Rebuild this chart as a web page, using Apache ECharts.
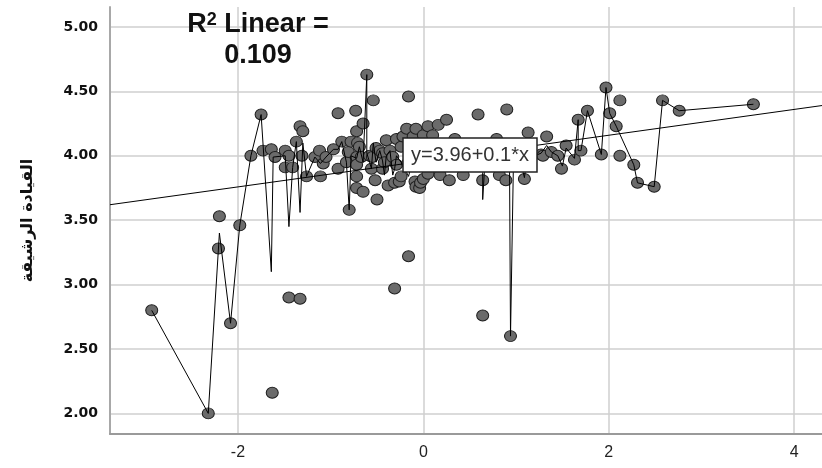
<!DOCTYPE html>
<html><head><meta charset="utf-8">
<script src="https://cdn.jsdelivr.net/npm/echarts@6/dist/echarts.min.js"></script>
<style>html,body{margin:0;padding:0;background:#fff}#c{width:822px;height:468px}</style>
</head><body><div id="c"></div>
<script>
// scatter points (x = predictor, y = القيادة الرشيقة)
const pointX = [
-2.93,-2.32,-2.20,-2.21,-2.08,-1.98,-1.86,-1.75,-1.73,-1.64,-1.63,-1.60,-1.49,-1.45,-1.49,-1.41,-1.45,-1.37,-1.33,-1.30,-1.31,-1.33,-1.26,
-1.17,-1.12,-1.11,-1.08,-1.05,-0.97,-0.92,-0.92,-0.88,-0.83,-0.81,-0.80,-0.78,-0.73,-0.72,-0.71,-0.72,-0.72,-0.72,-0.72,-0.69,-0.67,-0.65,-0.65,
-0.61,-0.58,-0.56,-0.55,-0.54,-0.52,-0.51,-0.50,-0.47,-0.44,-0.44,-0.42,-0.40,-0.38,-0.36,-0.33,-0.31,-0.31,-0.29,-0.29,-0.26,-0.24,-0.24,-0.22,
-0.18,-0.17,-0.16,-0.16,-0.11,-0.09,-0.08,-0.08,-0.04,-0.03,0.00,0.00,0.05,0.05,0.10,0.16,0.18,0.25,0.28,0.34,0.43,0.59,0.64,0.64,0.79,0.82,0.89,0.90,0.94,1.09,1.13,
0.10,0.30,0.50,0.70,0.95,1.10,
1.27,1.29,1.33,1.38,1.45,1.49,1.54,1.63,1.67,1.70,1.77,1.92,1.97,2.01,2.08,2.12,2.12,2.27,2.31,2.49,2.58,2.76,3.56
];
const pointY = [
2.80,2.00,3.53,3.28,2.70,3.46,4.00,4.32,4.04,4.05,2.16,3.99,4.04,4.00,3.91,3.91,2.90,4.11,4.23,4.19,4.00,2.89,3.84,
3.99,4.04,3.84,3.94,3.99,4.05,4.33,3.90,4.11,3.95,4.03,3.58,4.11,4.35,4.19,4.10,3.99,3.93,3.84,3.75,4.07,3.99,4.25,3.72,
4.63,4.00,3.90,3.99,4.43,3.81,4.06,3.66,4.04,4.02,3.90,3.95,4.12,3.77,4.04,3.99,3.79,2.97,4.13,3.93,3.80,3.84,4.07,4.15,
4.21,3.94,4.46,3.22,4.15,3.80,4.21,3.76,3.75,3.79,4.16,3.82,4.23,3.86,4.16,4.24,3.85,4.28,3.81,4.13,3.85,4.32,3.81,2.76,4.13,3.85,3.81,4.36,2.60,3.82,4.18,
4.00,3.98,4.02,3.96,4.02,3.95,
4.01,4.00,4.15,4.03,4.00,3.90,4.08,3.97,4.28,4.04,4.35,4.01,4.53,4.33,4.23,4.43,4.00,3.93,3.79,3.76,4.43,4.35,4.40
];
// interpolation path (mean at each x, joined in x order)
const pathX = [
-2.93,-2.32,-2.20,-2.08,-1.98,-1.86,-1.75,-1.64,-1.62,-1.49,-1.45,-1.41,-1.37,-1.33,-1.30,-1.26,-1.17,-1.11,-1.05,-0.97,-0.92,-0.88,-0.83,-0.80,-0.78,
-0.72,-0.69,-0.65,-0.61,-0.61,-0.58,-0.56,-0.54,-0.51,-0.47,-0.44,-0.42,-0.40,-0.36,-0.33,-0.31,-0.29,-0.24,-0.20,-0.16,-0.11,-0.08,-0.04,0.00,0.05,0.10,
0.16,0.18,0.27,0.34,0.43,0.50,0.59,0.64,0.64,0.66,0.79,0.82,0.89,0.93,0.94,0.97,1.05,1.09,1.13,1.20,1.27,1.33,1.38,1.45,1.50,1.54,1.63,1.67,1.67,1.70,
1.77,1.92,1.97,2.01,2.08,2.27,2.31,2.49,2.58,2.76,3.56
];
const pathY = [
2.80,2.00,3.40,2.70,3.46,4.00,4.32,3.10,3.99,4.00,3.45,3.91,4.11,3.56,4.10,3.84,3.99,3.94,3.99,4.05,4.05,4.11,3.95,3.58,4.00,
3.98,4.07,3.95,4.63,4.02,3.95,3.90,4.10,3.95,4.04,3.96,3.85,4.00,4.04,3.85,3.90,4.00,3.95,3.90,3.84,3.98,4.00,3.95,4.00,4.05,4.00,
4.04,3.95,4.05,3.95,3.98,3.95,4.00,3.87,3.66,3.90,4.00,3.92,3.96,3.88,2.60,3.88,3.95,3.83,4.05,4.00,4.02,4.08,4.03,4.00,3.92,4.06,3.98,4.28,4.04,4.04,
4.35,4.01,4.53,4.33,4.23,3.93,3.79,3.76,4.43,4.35,4.40
];
// linear fit y = 3.96 + 0.1*x, end points at the plot edges
const fitX = [-3.38, 4.30];
const fitY = [3.62, 4.39];
const xTicks = [-2, 0, 2, 4];
const xTickLabels = ['-2', '0', '2', '4'];
const yTicks = [2.0, 2.5, 3.0, 3.5, 4.0, 4.5, 5.0];
const yTickLabels = ['2.00', '2.50', '3.00', '3.50', '4.00', '4.50', '5.00'];
const yTitle = 'القيادة الرشيقة';
const fitLabel = 'y=3.96+0.1*x';
const r2Line1 = 'R{s|2} Linear =';
const r2Line2 = '0.109';

const pick = (ticks, labels) => v => {
  const i = ticks.findIndex(t => Math.abs(t - v) < 1e-6);
  return i < 0 ? '' : labels[i];
};
const zip = (a, b) => a.map((v, i) => [v, b[i]]);

const chart = echarts.init(document.getElementById('c'), null, {renderer: 'canvas'});
chart.setOption({
  animation: false,
  backgroundColor: '#fff',
  grid: {left: 110, right: 0, top: 7, bottom: 34, containLabel: false},
  xAxis: {
    type: 'value', min: -3.38, max: 4.30,
    axisLine: {show: true, onZero: false, lineStyle: {color: '#9a9a9a', width: 2}},
    axisTick: {show: false},
    axisLabel: {show: true, showMinLabel: false, showMaxLabel: false, margin: 11,
      fontFamily: 'Liberation Sans', fontSize: 16, color: '#222', formatter: pick(xTicks, xTickLabels)},
    splitLine: {show: true, showMinLine: false, showMaxLine: false, lineStyle: {color: '#cfcfcf', width: 1.5}}
  },
  yAxis: {
    type: 'value', min: 1.84, max: 5.155,
    name: yTitle, nameLocation: 'middle', nameGap: 74, nameRotate: 90,
    nameTextStyle: {fontFamily: 'DejaVu Sans', fontWeight: 'bold', fontSize: 16, color: '#111'},
    axisLine: {show: true, onZero: false, lineStyle: {color: '#a8a8a8', width: 2}},
    axisTick: {show: false},
    axisLabel: {show: true, showMinLabel: false, showMaxLabel: false, margin: 12,
      fontFamily: 'DejaVu Sans', fontWeight: 'bold', fontSize: 14, color: '#111', formatter: pick(yTicks, yTickLabels)},
    splitLine: {show: true, showMinLine: false, showMaxLine: false, lineStyle: {color: '#cfcfcf', width: 1.5}}
  },
  series: [
    {type: 'scatter', data: zip(pointX, pointY), symbol: 'circle', symbolSize: [12, 11], z: 2,
     itemStyle: {color: '#6b6b6b', borderColor: '#1e1e1e', borderWidth: 1, opacity: 1}},
    {type: 'line', data: zip(pathX, pathY), symbol: 'none', z: 3,
     lineStyle: {color: '#000', width: 1}},
    {type: 'line', data: zip(fitX, fitY), symbol: 'none', z: 3,
     lineStyle: {color: '#000', width: 1}}
  ],
  graphic: [
    {type: 'group', z: 100, children: [
      {type: 'rect', shape: {x: 403, y: 138, width: 134, height: 34},
       style: {fill: '#fff', stroke: '#222', lineWidth: 1.5}, z: 100},
      {type: 'text', x: 470, y: 155, z: 101,
       style: {text: fitLabel, fill: '#333', font: '20px "Liberation Sans"', align: 'center', verticalAlign: 'middle'}}
    ]},
    {type: 'text', x: 258, y: 25, z: 101,
     style: {text: r2Line1, fill: '#111', font: 'bold 27px "Liberation Sans"', align: 'center', verticalAlign: 'middle',
       rich: {s: {fontSize: 18, fontWeight: 'bold', fontFamily: 'Liberation Sans', verticalAlign: 'top', fill: '#111'}}}},
    {type: 'text', x: 258, y: 56, z: 101,
     style: {text: r2Line2, fill: '#111', font: 'bold 27px "Liberation Sans"', align: 'center', verticalAlign: 'middle'}}
  ]
});
</script></body></html>
